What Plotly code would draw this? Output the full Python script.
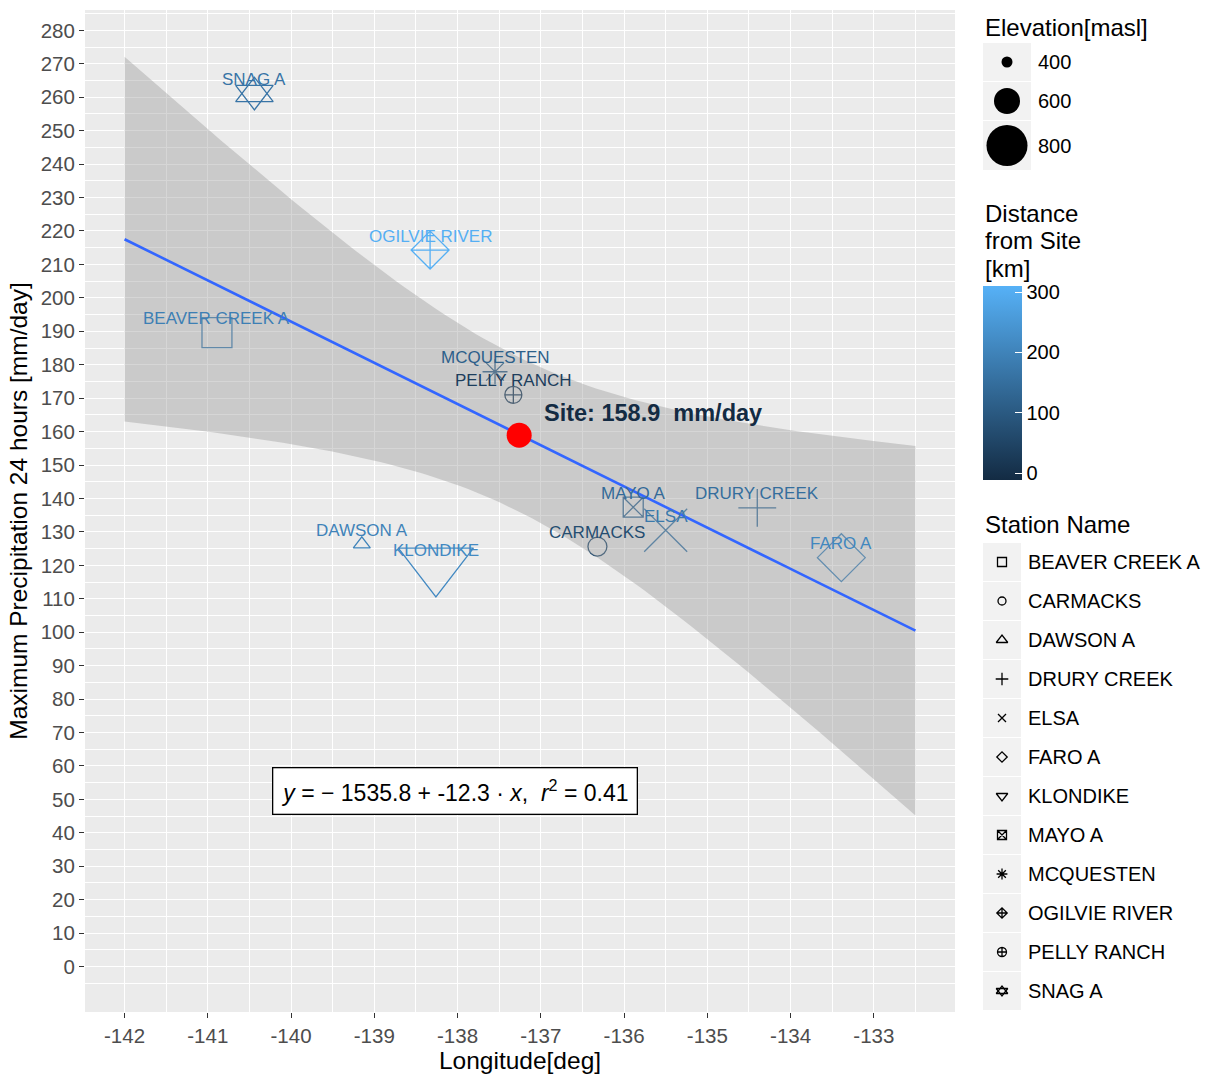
import numpy as np
import plotly.graph_objects as go

# ---------------- data ----------------
stations = ["BEAVER CREEK A", "CARMACKS", "DAWSON A", "DRURY CREEK", "ELSA", "FARO A",
            "KLONDIKE", "MAYO A", "MCQUESTEN", "OGILVIE RIVER", "PELLY RANCH", "SNAG A"]
longitude = [-140.89, -136.32, -139.15, -134.40, -135.50, -133.39,
             -138.26, -135.89, -137.55, -138.33, -137.33, -140.44]
max_precip = [189.6, 125.6, 126.3, 137.2, 130.5, 122.3,
              120.3, 137.4, 177.9, 214.3, 171.0, 261.1]
elevation_m = [704, 506, 410, 610, 826, 762, 946, 554, 488, 656, 480, 600]
distance_km = [190, 70, 200, 150, 175, 210, 215, 140, 115, 305, 35, 165]

site_longitude = -137.26
site_precip = 158.9
fit_lon_range = [-142.0, -132.5]
equation_text = "<i>y</i> = − 1535.8 + -12.3 · <i>x</i>,  <i>r</i><sup>2</sup> = 0.41"
equation_pos = [-138.03, 52.5]

x_ticks = list(range(-142, -132))
y_ticks = list(range(0, 281, 10))
size_legend_values = [400, 600, 800]
distance_ticks = [0, 100, 200, 300]
colorbar_title_lines = ["Distance", "from Site", "[km]"]

# ---------------- styling ----------------
FONT = "Liberation Sans, Arial, sans-serif"
W, H = 1214, 1078
ML, MR, MT, MB = 85, 0, 10, 66
PLOT_W = W - ML - MR
PLOT_H = H - MT - MB
PANEL_RIGHT = 955
LEG_LEFT = 965
LEG_X = 983
CB_TOP, CB_BOTTOM, CB_W = 286, 480, 39

symbol_of = {
    "BEAVER CREEK A": "square-open", "CARMACKS": "circle-open", "DAWSON A": "triangle-up-open",
    "DRURY CREEK": "cross-thin-open", "ELSA": "x-thin-open", "FARO A": "diamond-open",
    "KLONDIKE": "triangle-down-open", "MAYO A": "square-x-open", "MCQUESTEN": "asterisk-open",
    "OGILVIE RIVER": "diamond-cross-open", "PELLY RANCH": "circle-cross-open",
    "SNAG A": "triangle-up-open",
}
extra_symbol = {"SNAG A": "triangle-down-open"}
sym_factor = {
    "square-open": 1.77, "circle-open": 2.0, "triangle-up-open": 2.5, "triangle-down-open": 2.5,
    "cross-thin-open": 2.02, "x-thin-open": 2.0, "diamond-open": 1.93, "square-x-open": 1.77,
    "asterisk-open": 2.36, "diamond-cross-open": 1.93, "circle-cross-open": 2.0,
}
legend_sym_size = {
    "square-open": 9, "circle-open": 8, "triangle-up-open": 10, "triangle-down-open": 10,
    "cross-thin-open": 9, "x-thin-open": 8, "diamond-open": 8, "square-x-open": 9,
    "asterisk-open": 9, "diamond-cross-open": 8, "circle-cross-open": 9,
}


def radius_px(elev):
    return 0.0375 * (np.asarray(elev, dtype=float) - 253.0)


C_LOW, C_HIGH = (19, 43, 67), (86, 177, 247)
CMIN, CMAX = -11.0, 310.0


def dist_color(d):
    t = min(max((d - CMIN) / (CMAX - CMIN), 0), 1)
    r, g, b = [round(a + (b_ - a) * t) for a, b_ in zip(C_LOW, C_HIGH)]
    return f"rgb({r},{g},{b})"


# ---------------- linear fit + 95% CI (as geom_smooth(method="lm")) ----------------
x = np.array(longitude)
y = np.array(max_precip)
n = len(x)
xm, ym = x.mean(), y.mean()
sxx = ((x - xm) ** 2).sum()
slope = ((x - xm) * (y - ym)).sum() / sxx
intercept = ym - slope * xm
resid = y - (intercept + slope * x)
s = np.sqrt((resid ** 2).sum() / (n - 2))
t_crit = 2.228139  # qt(0.975, df=10)
xf = np.linspace(fit_lon_range[0], fit_lon_range[1], 100)
yf = intercept + slope * xf
hw = t_crit * s * np.sqrt(1.0 / n + (xf - xm) ** 2 / sxx)

fig = go.Figure()

# station markers
rad = radius_px(elevation_m)
syms = [symbol_of[s_] for s_ in stations]
fig.add_trace(go.Scatter(
    x=longitude, y=max_precip, mode="markers", showlegend=False, hoverinfo="skip",
    marker=dict(
        symbol=syms, size=[sym_factor[sy] * r for sy, r in zip(syms, rad)], opacity=1,
        color=distance_km, colorscale=[[0, "#132B43"], [1, "#56B1F7"]], cmin=CMIN, cmax=CMAX,
        line=dict(width=1.3),
        colorbar=dict(
            x=(LEG_X - ML) / PLOT_W, xanchor="left", y=(H - MB - CB_BOTTOM) / PLOT_H, yanchor="bottom",
            len=CB_BOTTOM - CB_TOP, lenmode="pixels", thickness=CB_W, thicknessmode="pixels",
            xpad=0, ypad=0, outlinewidth=0, tickvals=distance_ticks, ticks="inside",
            ticklen=7, tickcolor="white", tickwidth=1.2,
            tickfont=dict(family=FONT, size=20, color="black"),
        ),
    ),
))
# second glyph for the two-triangle (SNAG A) shape
for i, st in enumerate(stations):
    if st in extra_symbol:
        sy = extra_symbol[st]
        fig.add_trace(go.Scatter(
            x=[longitude[i]], y=[max_precip[i]], mode="markers", showlegend=False, hoverinfo="skip",
            marker=dict(symbol=sy, size=sym_factor[sy] * rad[i], color=dist_color(distance_km[i]),
                        opacity=1, line=dict(width=1.3))))

# ribbon
fig.add_trace(go.Scatter(x=xf, y=yf + hw, mode="lines", line=dict(width=0), showlegend=False,
                         hoverinfo="skip"))
fig.add_trace(go.Scatter(x=xf, y=yf - hw, mode="lines", line=dict(width=0), fill="tonexty",
                         fillcolor="rgba(153,153,153,0.4)", showlegend=False, hoverinfo="skip"))
# fit line
fig.add_trace(go.Scatter(x=xf, y=yf, mode="lines", line=dict(color="#3366FF", width=2.6),
                         showlegend=False, hoverinfo="skip"))
# site
fig.add_trace(go.Scatter(x=[site_longitude], y=[site_precip], mode="markers", showlegend=False,
                         hoverinfo="skip", marker=dict(color="red", size=25, opacity=1)))

annotations = []
for st, lo, pr, d in zip(stations, longitude, max_precip, distance_km):
    annotations.append(dict(x=lo, y=pr, xref="x", yref="y", text=st, showarrow=False,
                            yshift=14, font=dict(family=FONT, size=17, color=dist_color(d))))
annotations.append(dict(x=site_longitude, y=site_precip, xref="x", yref="y",
                        text=f"<b>Site: {site_precip}  mm/day</b>", showarrow=False,
                        xanchor="left", xshift=23, yshift=22,
                        font=dict(family=FONT, size=23.5, color="#132B43")))
annotations.append(dict(x=equation_pos[0], y=equation_pos[1], xref="x", yref="y", text=equation_text,
                        showarrow=False, bgcolor="white", bordercolor="black", borderwidth=1.3,
                        borderpad=8, font=dict(family=FONT, size=23, color="black")))

# ---------------- manual legends (in a helper axis measured in page pixels) ----------------
shapes = [dict(type="rect", xref="x domain", yref="y domain", x0=0, x1=1, y0=0, y1=1,
               fillcolor="#EBEBEB", line=dict(width=0), layer="below")]
KEY_BG = "#F2F2F2"
TITLE_SIZE = 24
LABEL_SIZE = 20

# Elevation (size) legend
annotations.append(dict(x=LEG_X, y=27, xref="x2", yref="y2", text="Elevation[masl]", showarrow=False,
                        xanchor="left", yanchor="middle",
                        font=dict(family=FONT, size=TITLE_SIZE, color="black")))
ycur = 43
size_x, size_y, size_d = [], [], []
for v in size_legend_values:
    d = 2 * float(radius_px(v))
    h = max(38, d + 8)
    shapes.append(dict(type="rect", xref="x2", yref="y2", x0=LEG_X, x1=LEG_X + 48, y0=ycur, y1=ycur + h,
                       fillcolor=KEY_BG, line=dict(width=0), layer="below"))
    yc = ycur + h / 2
    size_x.append(LEG_X + 24); size_y.append(yc); size_d.append(d)
    annotations.append(dict(x=LEG_X + 53, y=yc, xref="x2", yref="y2", text=str(v), showarrow=False,
                            xanchor="left", yanchor="middle",
                            font=dict(family=FONT, size=LABEL_SIZE, color="black")))
    ycur += h + 1
fig.add_trace(go.Scatter(x=size_x, y=size_y, xaxis="x2", yaxis="y2", mode="markers", showlegend=False,
                         hoverinfo="skip",
                         marker=dict(color="black", size=size_d, opacity=1, line=dict(width=0))))

# Colorbar title lines and the left-side white ticks
for k, line in enumerate(colorbar_title_lines):
    annotations.append(dict(x=LEG_X, y=213 + 27.5 * k, xref="x2", yref="y2", text=line, showarrow=False,
                            xanchor="left", yanchor="middle",
                            font=dict(family=FONT, size=TITLE_SIZE, color="black")))
for v in distance_ticks:
    ty = CB_BOTTOM - (v - CMIN) / (CMAX - CMIN) * (CB_BOTTOM - CB_TOP)
    shapes.append(dict(type="line", xref="x2", yref="y2", x0=LEG_X, x1=LEG_X + 7, y0=ty, y1=ty,
                       line=dict(color="white", width=1.2), layer="above"))

# Station (shape) legend
annotations.append(dict(x=LEG_X, y=524, xref="x2", yref="y2", text="Station Name", showarrow=False,
                        xanchor="left", yanchor="middle",
                        font=dict(family=FONT, size=TITLE_SIZE, color="black")))
ycur = 543
for st in stations:
    shapes.append(dict(type="rect", xref="x2", yref="y2", x0=LEG_X, x1=LEG_X + 38, y0=ycur, y1=ycur + 38,
                       fillcolor=KEY_BG, line=dict(width=0), layer="below"))
    yc = ycur + 19
    glyphs = [symbol_of[st]] + ([extra_symbol[st]] if st in extra_symbol else [])
    for g in glyphs:
        fig.add_trace(go.Scatter(x=[LEG_X + 19], y=[yc], xaxis="x2", yaxis="y2", mode="markers",
                                 showlegend=False, hoverinfo="skip",
                                 marker=dict(symbol=g, size=legend_sym_size[g], color="black", opacity=1,
                                             line=dict(width=1.3))))
    annotations.append(dict(x=LEG_X + 43, y=yc, xref="x2", yref="y2", text=st, showarrow=False,
                            xanchor="left", yanchor="middle",
                            font=dict(family=FONT, size=LABEL_SIZE, color="black")))
    ycur += 39

axis_common = dict(showline=False, zeroline=False, ticks="outside", ticklen=5, tickwidth=1.1,
                   tickcolor="#333333", gridcolor="white", gridwidth=1.2, automargin=False,
                   tickfont=dict(family=FONT, size=20.5, color="#4D4D4D"))
fig.update_layout(
    width=W, height=H, margin=dict(l=ML, r=MR, t=MT, b=MB),
    paper_bgcolor="white", plot_bgcolor="white", showlegend=False,
    font=dict(family=FONT),
    xaxis=dict(domain=[0, (PANEL_RIGHT - ML) / PLOT_W], range=[-142.475, -132.025],
               tickvals=x_ticks, ticktext=[str(v) for v in x_ticks],
               minor=dict(tick0=-142.5, dtick=1, showgrid=True, gridcolor="white", gridwidth=0.6, ticks=""),
               title=dict(text="Longitude[deg]", font=dict(family=FONT, size=24.5, color="black"), standoff=4),
               **axis_common),
    yaxis=dict(domain=[0, 1], range=[-13.6, 286.1], tickvals=y_ticks,
               minor=dict(tick0=5, dtick=10, showgrid=True, gridcolor="white", gridwidth=0.6, ticks=""),
               title=dict(text="Maximum Precipitation 24 hours [mm/day]",
                          font=dict(family=FONT, size=24.5, color="black"), standoff=6),
               **axis_common),
    xaxis2=dict(domain=[(LEG_LEFT - ML) / PLOT_W, 1], range=[LEG_LEFT, W], visible=False, fixedrange=True),
    yaxis2=dict(domain=[0, 1], range=[H - MB, MT], visible=False, fixedrange=True),
    annotations=annotations, shapes=shapes,
)

fig.write_html("out.html", config={"displayModeBar": False},
               post_script="document.body.style.margin='0';document.body.style.overflow='hidden';")
